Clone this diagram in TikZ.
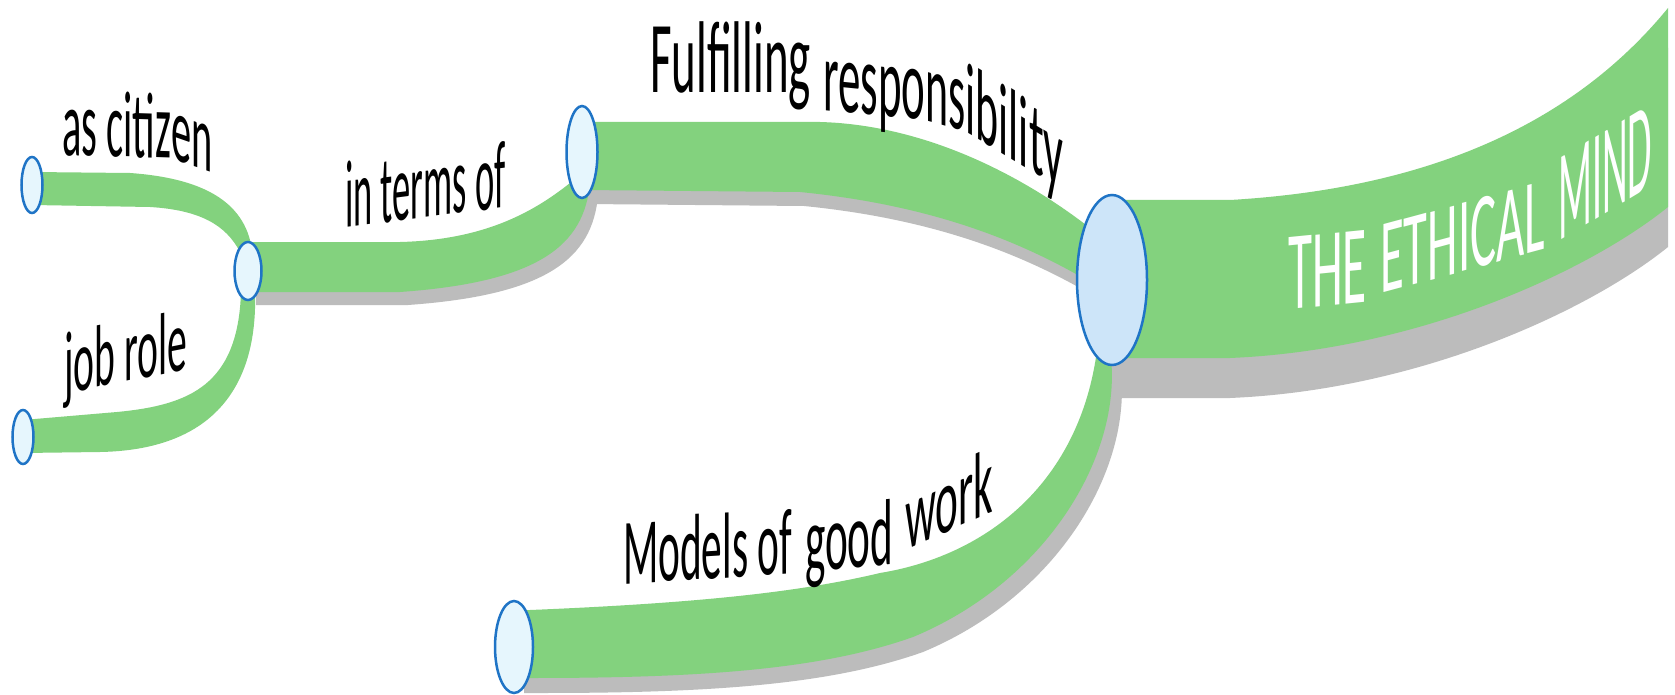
\documentclass[tikz,border=0pt]{standalone}
\usepackage{fontspec}
\setmainfont{Carlito}
\usetikzlibrary{shapes.geometric,backgrounds}
\definecolor{branchgreen}{HTML}{83D27E}
\definecolor{shadowgray}{HTML}{BCBCBC}
\definecolor{ringblue}{HTML}{1F74C6}
\definecolor{hubfill}{HTML}{CDE5F9}
\definecolor{knobfill}{HTML}{E6F6FD}

\newcommand\pathmain{([yshift=80pt]central.center) -- (1230,200) .. controls (1400,190) and (1560,140) .. (1668,8) -- (1668,207) .. controls (1590,270) and (1420,350) .. (1230,358) -- ([yshift=-78pt]central.center) -- cycle}
\newcommand\pathfulfil{([yshift=30pt]fulfil.center) -- (820,122) .. controls (930,125) and (1030,180) .. (1095,232) -- (1095,285) .. controls (1020,240) and (930,205) .. (800,192) -- ([yshift=-38pt]fulfil.center) -- cycle}
\newcommand\pathterms{([yshift=29pt]terms.center) -- (400,242) .. controls (480,240) and (530,215) .. (570,183) -- (590,183) .. controls (584,245) and (540,282) .. (400,292) -- ([yshift=-21pt]terms.center) -- cycle}
\newcommand\pathcitizen{([yshift=13pt]citizen.center) -- (130,173) .. controls (200,178) and (245,200) .. (252,250) -- (240,252) .. controls (226,225) and (200,210) .. (150,207) -- ([yshift=-20pt]citizen.center) -- cycle}
\newcommand\pathjob{([yshift=17pt]jobrole.center) -- (117,412) .. controls (190,405) and (238,385) .. (241,292) -- (255,292) .. controls (258,390) and (210,450) .. (100,452) -- ([yshift=-16pt]jobrole.center) -- cycle}
\newcommand\pathmodels{(1097,350) .. controls (1080,480) and (990,555) .. (880,573) .. controls (800,592) and (700,603) .. (530,610) -- ([yshift=37pt]models.center) -- ([yshift=-31pt]models.center) -- (530,678) .. controls (700,678) and (820,670) .. (913,637) .. controls (1050,580) and (1125,450) .. (1110,350) -- cycle}

\begin{document}
\begin{tikzpicture}[x=1pt,y=-1pt,
  hub/.style={ellipse,draw=ringblue,line width=2.5pt,fill=hubfill,inner sep=0pt},
  knob/.style={ellipse,draw=ringblue,line width=2.5pt,fill=knobfill,inner sep=0pt},
  lbl/.style={inner sep=0pt,anchor=base west,font=\fontsize{#1}{#1}\selectfont},
  ttl/.style={inner sep=0pt,anchor=base west,text=white,font=\fontsize{#1}{#1}\selectfont}]
  \useasboundingbox (0,0) rectangle (1675,695);

  \node[hub,minimum width=70,minimum height=170] (central) at (1112,280) {};
  \node[knob,minimum width=31,minimum height=92] (fulfil) at (582,152) {};
  \node[knob,minimum width=27,minimum height=58] (terms) at (248,271) {};
  \node[knob,minimum width=21,minimum height=56] (citizen) at (32,185) {};
  \node[knob,minimum width=21,minimum height=54] (jobrole) at (23,437) {};
  \node[knob,minimum width=38,minimum height=92] (models) at (514,647) {};

  \begin{scope}[on background layer]
    \fill[white] (0,0) rectangle (1675,695);
    \fill[shadowgray,transform canvas={yshift=-40pt}] \pathmain;
    \fill[shadowgray,transform canvas={xshift=4pt,yshift=-14pt}] \pathfulfil;
    \fill[shadowgray,transform canvas={xshift=8pt,yshift=-13pt}] \pathterms;
    \fill[shadowgray,transform canvas={xshift=10pt,yshift=-15pt}] \pathmodels;
    \fill[branchgreen] \pathmain;
    \fill[branchgreen] \pathfulfil;
    \fill[branchgreen] \pathterms;
    \fill[branchgreen] \pathcitizen;
    \fill[branchgreen] \pathjob;
    \fill[branchgreen] \pathmodels;
  \end{scope}

  \node[yslant=.1,ttl=112,xscale=.44] (title1) at (1288,310) {THE};
  \node[yslant=.27,ttl=106,xscale=.46] (title2) at (1380,294) {ETHICAL};
  \node[yslant=.6,ttl=128,xscale=.31] (title3) at (1558,242) {MIND};

  \node[lbl=102,xscale=.46] (fulfiltxt) at (650,93) {Fulfilling};
  \node[yslant=-.1,lbl=102,xscale=.44] (resp1) at (823,110) {respo};
  \node[yslant=-.28,lbl=102,xscale=.43] (resp2) at (resp1.base east) {ns};
  \node[yslant=-.6,lbl=102,xscale=.43] (resp3) at (resp2.base east) {ibility};

  \node[yslant=.13,lbl=96,xscale=.38] (termstxt) at (345,228) {in terms of};
  \node[yslant=-.03,lbl=94,xscale=.43] (citi1) at (62,155) {as citiz};
  \node[yslant=-.35,lbl=94,xscale=.43] (citi2) at (citi1.base east) {en};
  \node[yslant=.2,lbl=88,xscale=.45] (jobtxt) at (64,394) {job role};

  \node[yslant=.06,lbl=94,xscale=.44] (mod1) at (623,584) {Models of};
  \node[yslant=.1,lbl=94,xscale=.46] (mod2) at (805,573) {good};
  \node[yslant=.45,lbl=94,xscale=.46] (mod3) at (905,551) {work};
\end{tikzpicture}
\end{document}
